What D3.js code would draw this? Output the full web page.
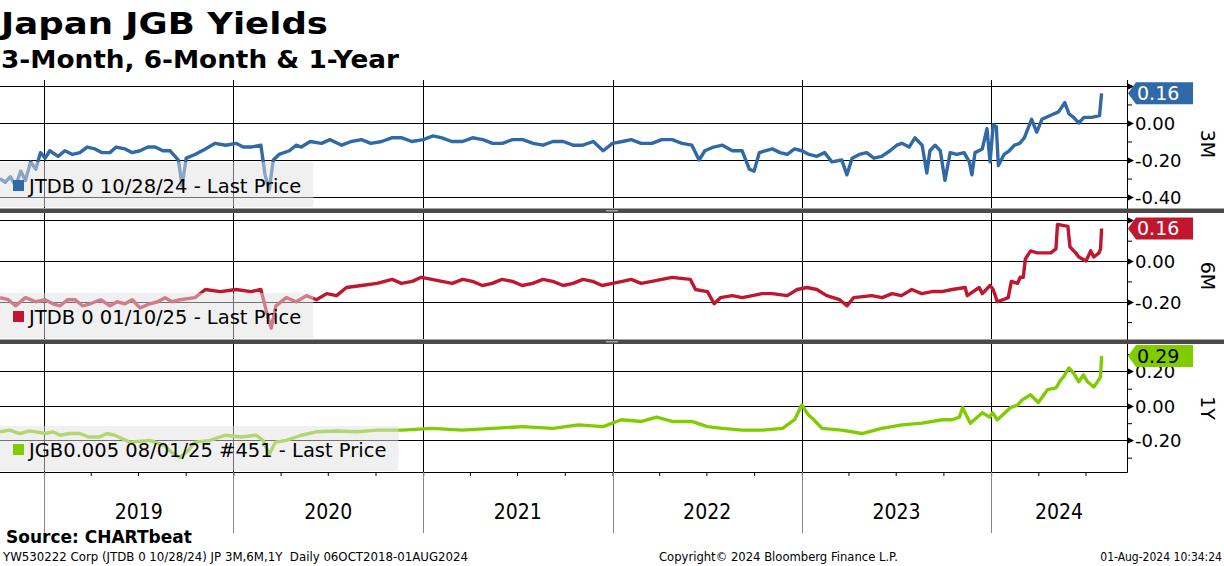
<!DOCTYPE html>
<html>
<head>
<meta charset="utf-8">
<script src="https://cdn.jsdelivr.net/npm/d3@7"></script>
<style>
  body { margin: 0; background: #fff; }
  svg { display: block; }
  text { font-family: "DejaVu Sans", sans-serif; }
</style>
</head>
<body>
<svg id="chart" width="1224" height="566"></svg>
<script>
"use strict";

// 3M bill
var jtdb3m = [
  ["2018-10-08",-0.30],["2018-10-18",-0.32],["2018-10-28",-0.29],["2018-11-07",-0.34],["2018-11-17",-0.26],
  ["2018-11-26",-0.31],["2018-12-06",-0.21],["2018-12-16",-0.25],["2018-12-25",-0.16],["2019-01-03",-0.19],
  ["2019-01-12",-0.15],["2019-01-28",-0.18],["2019-02-10",-0.15],["2019-02-25",-0.17],["2019-03-11",-0.16],
  ["2019-03-25",-0.13],["2019-04-09",-0.14],["2019-04-22",-0.16],["2019-05-08",-0.16],["2019-05-20",-0.13],
  ["2019-06-06",-0.14],["2019-06-20",-0.16],["2019-07-05",-0.15],["2019-07-20",-0.13],["2019-08-03",-0.13],
  ["2019-08-18",-0.15],["2019-09-01",-0.15],
  ["2019-09-17",-0.20],["2019-09-24",-0.34],["2019-10-02",-0.19],["2019-10-19",-0.17],["2019-11-08",-0.14],
  ["2019-11-27",-0.11],["2019-12-17",-0.12],["2020-01-06",-0.11],["2020-01-20",-0.13],["2020-02-04",-0.13],
  ["2020-02-23",-0.12],
  ["2020-03-02",-0.28],["2020-03-10",-0.36],["2020-03-18",-0.20],["2020-03-29",-0.17],["2020-04-18",-0.15],
  ["2020-05-01",-0.12],["2020-05-11",-0.13],["2020-05-28",-0.10],["2020-06-19",-0.11],["2020-07-05",-0.09],
  ["2020-07-28",-0.12],["2020-08-15",-0.10],["2020-09-04",-0.09],["2020-09-22",-0.11],["2020-10-13",-0.10],
  ["2020-11-01",-0.08],["2020-11-21",-0.08],["2020-12-10",-0.10],["2021-01-01",-0.09],["2021-01-20",-0.07],
  ["2021-02-06",-0.08],["2021-02-25",-0.10],["2021-03-18",-0.10],["2021-04-06",-0.08],["2021-04-26",-0.09],
  ["2021-05-15",-0.11],["2021-06-03",-0.11],["2021-06-22",-0.09],["2021-07-12",-0.09],["2021-08-01",-0.11],
  ["2021-08-20",-0.12],["2021-09-08",-0.10],["2021-09-28",-0.10],["2021-10-17",-0.12],["2021-11-05",-0.12],
  ["2021-11-25",-0.10],["2021-12-14",-0.15],["2022-01-01",-0.11],["2022-01-20",-0.10],["2022-02-06",-0.09],
  ["2022-02-25",-0.11],["2022-03-18",-0.11],["2022-04-06",-0.09],["2022-04-26",-0.09],["2022-05-15",-0.11],
  ["2022-06-03",-0.12],["2022-06-17",-0.20],["2022-06-28",-0.15],["2022-07-15",-0.13],["2022-08-01",-0.12],
  ["2022-08-20",-0.15],["2022-09-08",-0.15],
  ["2022-09-22",-0.25],["2022-10-01",-0.26],["2022-10-11",-0.16],["2022-11-05",-0.14],["2022-11-20",-0.16],
  ["2022-12-04",-0.17],["2022-12-18",-0.14],
  ["2023-01-01",-0.15],["2023-01-15",-0.17],["2023-01-30",-0.18],["2023-02-14",-0.16],["2023-02-28",-0.21],
  ["2023-03-19",-0.20],["2023-03-29",-0.28],
  ["2023-04-08",-0.19],["2023-04-22",-0.17],["2023-05-06",-0.16],["2023-05-20",-0.19],["2023-06-04",-0.18],
  ["2023-06-20",-0.15],["2023-07-03",-0.12],["2023-07-13",-0.11],
  ["2023-07-27",-0.13],["2023-08-07",-0.08],["2023-08-21",-0.12],["2023-08-30",-0.27],["2023-09-05",-0.15],
  ["2023-09-15",-0.12],["2023-09-25",-0.15],["2023-10-04",-0.31],["2023-10-14",-0.16],["2023-10-27",-0.17],
  ["2023-11-10",-0.16],["2023-11-20",-0.21],["2023-11-25",-0.28],["2023-12-01",-0.16],["2023-12-15",-0.14],
  ["2023-12-24",-0.03],["2023-12-30",-0.21],["2024-01-05",-0.01],["2024-01-11",-0.02],["2024-01-15",-0.23],
  ["2024-01-26",-0.17],["2024-02-05",-0.15],["2024-02-15",-0.12],["2024-02-25",-0.11],["2024-03-05",-0.08],
  ["2024-03-19",0.02],["2024-03-29",-0.05],
  ["2024-04-08",0.02],["2024-04-24",0.04],["2024-05-10",0.06],["2024-05-22",0.11],["2024-05-30",0.05],
  ["2024-06-08",0.03],["2024-06-18",0.00],
  ["2024-06-28",0.03],["2024-07-13",0.03],["2024-07-28",0.04],["2024-08-01",0.16]
];

// 6M bill
var jtdb6m = [
  ["2018-10-08",-0.18],["2018-10-24",-0.19],["2018-11-07",-0.22],["2018-11-26",-0.18],["2018-12-16",-0.20],
  ["2019-01-03",-0.19],["2019-01-18",-0.21],["2019-02-01",-0.22],["2019-02-15",-0.19],["2019-03-02",-0.19],
  ["2019-03-16",-0.22],["2019-03-31",-0.21],["2019-04-20",-0.19],["2019-05-08",-0.22],["2019-05-22",-0.20],
  ["2019-06-06",-0.21],["2019-06-20",-0.19],["2019-07-05",-0.23],["2019-07-24",-0.21],["2019-08-08",-0.20],
  ["2019-08-22",-0.18],["2019-09-05",-0.20],["2019-09-20",-0.19],
  ["2019-10-19",-0.18],["2019-11-08",-0.14],["2019-12-07",-0.15],["2020-01-06",-0.14],["2020-02-04",-0.15],
  ["2020-02-23",-0.14],["2020-03-04",-0.24],["2020-03-14",-0.33],["2020-03-23",-0.22],["2020-04-12",-0.18],
  ["2020-05-01",-0.20],["2020-05-21",-0.17],["2020-06-09",-0.19],["2020-06-29",-0.16],["2020-07-18",-0.17],
  ["2020-08-06",-0.13],["2020-09-04",-0.12],["2020-10-04",-0.11],["2020-11-02",-0.09],["2020-11-20",-0.11],
  ["2020-12-11",-0.10],["2020-12-28",-0.08],
  ["2021-01-18",-0.09],["2021-02-06",-0.10],["2021-02-26",-0.11],["2021-03-18",-0.09],["2021-04-06",-0.10],
  ["2021-04-25",-0.12],["2021-05-14",-0.11],["2021-06-02",-0.09],["2021-06-22",-0.10],["2021-07-11",-0.12],
  ["2021-07-31",-0.11],["2021-08-20",-0.09],["2021-09-08",-0.10],["2021-09-28",-0.12],["2021-10-17",-0.11],
  ["2021-11-05",-0.09],["2021-11-24",-0.10],["2021-12-12",-0.12],["2022-01-01",-0.11],
  ["2022-01-20",-0.10],["2022-02-06",-0.09],["2022-02-25",-0.11],["2022-03-18",-0.10],["2022-04-06",-0.09],
  ["2022-04-26",-0.08],["2022-05-31",-0.09],["2022-06-10",-0.14],
  ["2022-07-03",-0.15],["2022-07-16",-0.21],["2022-07-28",-0.18],["2022-08-20",-0.17],["2022-09-08",-0.18],
  ["2022-09-28",-0.17],["2022-10-16",-0.16],
  ["2022-11-05",-0.16],["2022-12-04",-0.17],["2022-12-23",-0.14],["2023-01-11",-0.13],["2023-01-30",-0.14],
  ["2023-02-18",-0.17],["2023-03-15",-0.19],["2023-03-29",-0.22],["2023-04-11",-0.18],["2023-05-16",-0.17],
  ["2023-06-05",-0.18],["2023-06-24",-0.16],["2023-07-12",-0.17],["2023-08-01",-0.14],["2023-08-20",-0.16],
  ["2023-09-09",-0.15],["2023-09-28",-0.15],["2023-10-18",-0.14],["2023-11-12",-0.13],
  ["2023-11-16",-0.17],["2023-12-09",-0.13],["2023-12-15",-0.16],["2023-12-30",-0.12],["2024-01-05",-0.14],
  ["2024-01-13",-0.20],["2024-01-24",-0.19],["2024-02-03",-0.18],["2024-02-09",-0.10],["2024-02-21",-0.11],
  ["2024-02-26",-0.08],["2024-03-03",-0.08],["2024-03-07",0.01],["2024-03-17",0.05],["2024-03-30",0.04],
  ["2024-04-25",0.04],["2024-05-05",0.06],["2024-05-08",0.18],["2024-05-28",0.17],["2024-06-01",0.07],
  ["2024-06-12",0.04],["2024-06-18",0.02],["2024-07-02",0.00],["2024-07-11",0.05],["2024-07-17",0.02],
  ["2024-07-27",0.04],["2024-07-30",0.06],["2024-08-01",0.16]
];

// 1Y bond
var jgb1y = [
  ["2018-10-08",-0.15],["2018-10-27",-0.14],["2018-11-15",-0.16],["2018-12-04",-0.145],["2019-01-03",-0.16],
  ["2019-01-18",-0.15],["2019-02-01",-0.17],["2019-02-20",-0.16],["2019-03-11",-0.16],["2019-03-28",-0.18],
  ["2019-04-18",-0.18],["2019-05-02",-0.16],["2019-05-17",-0.17],["2019-06-01",-0.19],["2019-06-15",-0.21],
  ["2019-07-24",-0.20],["2019-08-22",-0.23],["2019-09-04",-0.27],["2019-09-20",-0.30],["2019-10-05",-0.26],
  ["2019-10-19",-0.21],["2019-11-17",-0.20],["2019-12-16",-0.17],["2020-01-16",-0.18],["2020-02-14",-0.17],
  ["2020-02-27",-0.20],["2020-03-10",-0.28],["2020-03-22",-0.21],["2020-04-12",-0.20],["2020-05-11",-0.17],
  ["2020-06-09",-0.15],["2020-07-18",-0.145],["2020-08-26",-0.15],["2020-10-04",-0.14],["2020-11-21",-0.14],
  ["2021-01-18",-0.13],["2021-03-18",-0.14],["2021-05-14",-0.13],["2021-07-12",-0.12],["2021-09-08",-0.13],
  ["2021-10-27",-0.11],["2021-12-14",-0.12],["2022-01-18",-0.08],["2022-02-26",-0.09],["2022-03-27",-0.065],
  ["2022-04-26",-0.09],["2022-06-03",-0.09],["2022-07-03",-0.12],["2022-08-01",-0.13],["2022-09-08",-0.14],
  ["2022-10-17",-0.14],["2022-11-25",-0.13],["2022-12-18",-0.08],["2023-01-01",0.005],["2023-01-13",-0.05],
  ["2023-01-24",-0.08],["2023-02-09",-0.13],["2023-03-19",-0.14],["2023-04-27",-0.16],["2023-06-04",-0.13],
  ["2023-07-13",-0.11],["2023-08-21",-0.10],["2023-09-29",-0.08],["2023-10-18",-0.08],["2023-11-01",-0.065],
  ["2023-11-07",-0.01],["2023-11-22",-0.10],["2023-12-15",-0.04],["2023-12-29",-0.065],["2024-01-04",-0.04],
  ["2024-01-13",-0.08],["2024-01-24",-0.05],["2024-02-07",-0.01],["2024-02-21",0.005],["2024-03-01",0.035],
  ["2024-03-17",0.065],["2024-04-01",0.02],["2024-04-19",0.095],["2024-05-05",0.105],["2024-05-14",0.15],
  ["2024-05-20",0.17],["2024-05-30",0.22],["2024-06-08",0.19],["2024-06-18",0.14],["2024-06-27",0.18],
  ["2024-07-05",0.14],["2024-07-17",0.11],["2024-07-24",0.14],["2024-07-30",0.17],["2024-08-01",0.29]
];

var seriesNames = ["JTDB 0 10/28/24 - Last Price", "JTDB 0 01/10/25 - Last Price", "JGB0.005 08/01/25 #451 - Last Price"];
var panelLabels = ["3M", "6M", "1Y"];
var majorTicks = [[0.20, 0.00, -0.20, -0.40], [0.20, 0.00, -0.20], [0.20, 0.00, -0.20]];
var yearLabels = ["2019", "2020", "2021", "2022", "2023", "2024"];
var dateRange = ["2018-10-08", "2024-09-19"];

var parse = d3.timeParse("%Y-%m-%d");
var fmt = function(v) { return v.toFixed(2); };

var svg = d3.select("#chart");
var plotRight = 1127;

var x = d3.scaleTime()
  .domain(dateRange.map(parse))
  .range([0, plotRight]);

// panel layout: pixel bands and value windows
var panels = [
  {data: jtdb3m, color: "#2f69a6", tagText: "#fff", top: 80,  bottom: 208, dom: [-0.459, 0.232]},
  {data: jtdb6m, color: "#c0172f", tagText: "#fff", top: 213, bottom: 339, dom: [-0.383, 0.236]},
  {data: jgb1y,  color: "#7fcc00", tagText: "#000", top: 344, bottom: 472, dom: [-0.383, 0.359]}
];

// title block
svg.append("text").attr("x", 1).attr("y", 34)
  .attr("textLength", 327).attr("lengthAdjust", "spacingAndGlyphs")
  .style("font-weight", "bold").style("font-size", "31px")
  .text("Japan JGB Yields");
svg.append("text").attr("x", 1).attr("y", 68)
  .attr("textLength", 398).attr("lengthAdjust", "spacingAndGlyphs")
  .style("font-weight", "bold").style("font-size", "24px")
  .text("3-Month, 6-Month & 1-Year");

var years = yearLabels.map(function(d) { return parse(d + "-01-01"); });

panels.forEach(function(p, i) {
  var y = d3.scaleLinear().domain(p.dom).range([p.bottom, p.top]);
  var pts = p.data.map(function(d) { return [parse(d[0]), d[1]]; });
  var g = svg.append("g").attr("class", "panel panel-" + i);

  g.append("clipPath").attr("id", "clip" + i)
    .append("rect").attr("x", 0).attr("y", p.top).attr("width", plotRight).attr("height", p.bottom - p.top);

  // grid
  g.append("g").selectAll("line.hgrid")
    .data(majorTicks[i]).enter().append("line")
    .attr("x1", 0).attr("x2", plotRight)
    .attr("y1", function(d) { return Math.round(y(d)) + 0.5; })
    .attr("y2", function(d) { return Math.round(y(d)) + 0.5; })
    .attr("stroke", "#000").attr("stroke-width", 1);
  g.append("g").selectAll("line.vgrid")
    .data(years).enter().append("line")
    .attr("x1", function(d) { return Math.round(x(d)) + 0.5; })
    .attr("x2", function(d) { return Math.round(x(d)) + 0.5; })
    .attr("y1", p.top).attr("y2", p.bottom)
    .attr("stroke", "#000").attr("stroke-width", 1);

  // series
  var line = d3.line()
    .x(function(d) { return x(d[0]); })
    .y(function(d) { return y(d[1]); });
  g.append("path").datum(pts)
    .attr("clip-path", "url(#clip" + i + ")")
    .attr("d", line)
    .attr("fill", "none")
    .attr("stroke", p.color)
    .attr("stroke-width", 3.4)
    .attr("stroke-linejoin", "round");

  // legend box, translucent over the line
  var boxTop = p.bottom - 46;
  var leg = g.append("g");
  var box = leg.append("rect").attr("x", 0).attr("y", boxTop).attr("height", 45)
    .attr("fill", "#e2e2e2").attr("fill-opacity", 0.5);
  leg.append("rect").attr("x", 13).attr("y", boxTop + 18).attr("width", 11).attr("height", 11)
    .attr("fill", p.color);
  var lt = leg.append("text").attr("x", 29).attr("y", boxTop + 31)
    .style("font-size", "19.5px").attr("fill", "#000")
    .text(seriesNames[i]);
  box.attr("width", 29 + lt.node().getComputedTextLength() + 12);

  // right axis: minor ticks every 0.10, arrows and labels at majors
  var minor = d3.range(-0.4, 0.41, 0.1).filter(function(v) {
    return y(v) >= p.top && y(v) <= p.bottom;
  });
  var axis = d3.axisRight(y).tickValues(minor).tickSize(5).tickFormat("");
  g.append("g").attr("transform", "translate(" + plotRight + ",0)")
    .call(axis)
    .call(function(s) { s.select(".domain").remove(); });

  var shown = majorTicks[i].filter(function(v) { return y(v) - p.top > 10; });
  g.append("g").selectAll("path.arrow").data(majorTicks[i]).enter().append("path")
    .attr("d", function(v) { var yy = Math.round(y(v)) + 0.5; return "M" + plotRight + "," + (yy - 3.5) + "L" + (plotRight + 7) + "," + yy + "L" + plotRight + "," + (yy + 3.5) + "Z"; })
    .attr("fill", "#000");
  g.append("g").selectAll("text.tick").data(shown).enter().append("text")
    .attr("x", plotRight + 8)
    .attr("y", function(v) { return y(v) + 7; })
    .style("font-size", "18px")
    .text(fmt);

  // last value tag
  var last = pts[pts.length - 1];
  var cy = y(last[1]);
  g.append("path")
    .attr("d", "M" + (plotRight + 1) + "," + cy + "L" + (plotRight + 9) + "," + (cy - 11) +
      "L1193," + (cy - 11) + "L1193," + (cy + 11) + "L" + (plotRight + 9) + "," + (cy + 11) + "Z")
    .attr("fill", p.color);
  g.append("text").attr("x", plotRight + 10).attr("y", cy + 7)
    .style("font-size", "19px").attr("fill", p.tagText)
    .text(fmt(last[1]));

  // panel label, rotated
  var my = (p.top + p.bottom) / 2;
  g.append("text")
    .attr("transform", "translate(1201," + my + ") rotate(90)")
    .attr("text-anchor", "middle")
    .style("font-size", "19px")
    .text(panelLabels[i]);
});

// right axis spine
svg.append("line").attr("x1", plotRight + 0.5).attr("x2", plotRight + 0.5)
  .attr("y1", 80).attr("y2", 472.5).attr("stroke", "#000");

// dividers between panels
[208.5, 339.5].forEach(function(yy) {
  svg.append("rect").attr("x", 0).attr("y", yy).attr("width", 1224).attr("height", 4.5).attr("fill", "#4a4a4a");
  svg.append("rect").attr("x", 606).attr("y", yy + 1.5).attr("width", 12).attr("height", 1.5).attr("fill", "#a0a0a0");
});

// bottom time axis
var bottom = svg.append("g").attr("transform", "translate(0,472)");
bottom.append("line").attr("x1", 0).attr("x2", plotRight + 0.5).attr("y1", 0.5).attr("y2", 0.5).attr("stroke", "#000");
bottom.append("g")
  .call(d3.axisBottom(x).ticks(d3.timeMonth.every(3)).tickSize(4).tickFormat(""))
  .call(function(s) { s.select(".domain").remove(); });
bottom.selectAll("line.yearline").data(years).enter().append("line")
  .attr("x1", function(d) { return Math.round(x(d)) + 0.5; })
  .attr("x2", function(d) { return Math.round(x(d)) + 0.5; })
  .attr("y1", 0).attr("y2", 61)
  .attr("stroke", "#888");
bottom.selectAll("text.year").data(years).enter().append("text")
  .attr("x", function(d, i) {
    var end = i < years.length - 1 ? x(years[i + 1]) : plotRight;
    return (x(d) + end) / 2;
  })
  .attr("y", 47)
  .attr("text-anchor", "middle")
  .style("font-family", "DejaVu Sans Condensed, DejaVu Sans")
  .style("font-size", "21px")
  .text(function(d, i) { return yearLabels[i]; });

// footer
svg.append("text").attr("x", 6).attr("y", 543)
  .style("font-weight", "bold").style("font-size", "17px")
  .text("Source: CHARTbeat");
var foot = svg.append("g").style("font-size", "12px");
foot.append("text").attr("x", 3).attr("y", 561).attr("xml:space", "preserve")
  .attr("textLength", 465).attr("lengthAdjust", "spacingAndGlyphs")
  .text("YW530222 Corp (JTDB 0 10/28/24) JP 3M,6M,1Y  Daily 06OCT2018-01AUG2024");
foot.append("text").attr("x", 659).attr("y", 561)
  .attr("textLength", 239).attr("lengthAdjust", "spacingAndGlyphs")
  .text("Copyright\u00a9 2024 Bloomberg Finance L.P.");
foot.append("text").attr("x", 1222).attr("y", 561).attr("text-anchor", "end")
  .style("font-family", "DejaVu Sans Condensed, DejaVu Sans")
  .text("01-Aug-2024 10:34:24");
</script>
</body>
</html>
